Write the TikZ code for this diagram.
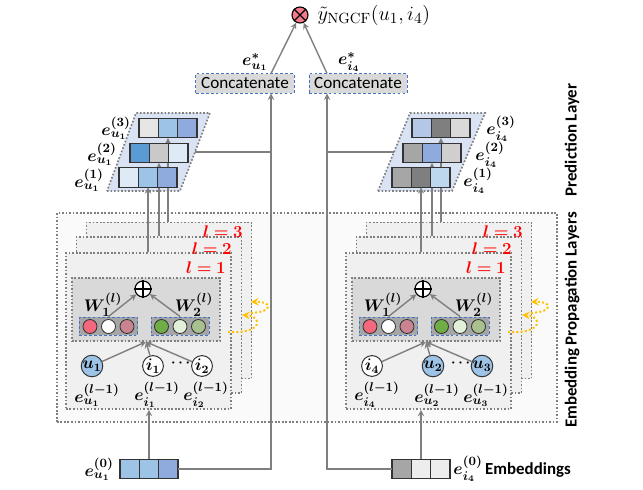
\documentclass[tikz,border=0pt]{standalone}
\usepackage{amsmath}
\usepackage{bm}
\usepackage{fontspec}
\setsansfont{Carlito}
\usepackage{tikz}
\usetikzlibrary{positioning}
\usetikzlibrary{shapes.geometric, arrows}

\definecolor{lineGray}{HTML}{7F7F7F}
\definecolor{dashBlue}{HTML}{4472C4}
\definecolor{boxGray}{HTML}{D9D9D9}
\definecolor{layerGray}{HTML}{F0F0F0}
\definecolor{outerGray}{HTML}{FAFAFA}
\definecolor{wGray}{HTML}{A6A6A6}
\definecolor{stackBlue}{HTML}{DAE3F3}
\definecolor{predPink}{HTML}{F47A8C}
\definecolor{tagRed}{HTML}{FF0000}
\definecolor{flowGold}{HTML}{FFC000}
\definecolor{cLightGray}{HTML}{E7E6E6}
\definecolor{cSky}{HTML}{9DC3E6}
\definecolor{cSteel}{HTML}{8FAADC}
\definecolor{cBlue}{HTML}{5B9BD5}
\definecolor{cSilver}{HTML}{C9C9C9}
\definecolor{cIce}{HTML}{DEEBF7}
\definecolor{cPale}{HTML}{B4C7E7}
\definecolor{cDark}{HTML}{7F7F7F}
\definecolor{cMid}{HTML}{A6A6A6}
\definecolor{cLight}{HTML}{D9D9D9}
\definecolor{cRosy}{HTML}{D0CECE}
\definecolor{cBaby}{HTML}{BDD7EE}
\definecolor{cSnow}{HTML}{EDEDED}
\definecolor{wPink}{HTML}{F4687E}
\definecolor{wRose}{HTML}{C98490}
\definecolor{wGreen}{HTML}{70AD47}
\definecolor{wMint}{HTML}{E2F0D9}
\definecolor{wSage}{HTML}{A9C18F}

\tikzstyle{arrow} = [line width=1pt,->,>=stealth,draw=lineGray]
\tikzstyle{link} = [line width=1pt,draw=lineGray]
\tikzstyle{flow} = [line width=1.4pt,->,>=stealth,draw=flowGold,dash pattern=on 1.4pt off 1.6pt]
\tikzstyle{dotframe} = [draw=lineGray,line width=1.2pt,dash pattern=on 1.2pt off 1.3pt]
\tikzstyle{layerbox} = [dotframe,fill=layerGray,minimum width=4.125cm,minimum height=3.9cm,inner sep=0pt]
\tikzstyle{aggbox} = [dotframe,fill=boxGray,minimum width=3.7cm,minimum height=1.575cm,inner sep=0pt]
\tikzstyle{wbox} = [draw=dashBlue,line width=0.7pt,dash pattern=on 2pt off 1.5pt,fill=wGray,minimum width=1.45cm,minimum height=0.45cm,inner sep=0pt]
\tikzstyle{concat} = [draw=dashBlue,line width=0.7pt,dash pattern=on 2pt off 1.5pt,fill=boxGray,minimum width=2.45cm,minimum height=0.475cm,inner sep=0pt,font=\sffamily\fontsize{12.2}{14}\selectfont]
\tikzstyle{cell} = [draw=black!80,line width=0.8pt,minimum width=0.4825cm,minimum height=0.49cm,inner sep=0pt,outer sep=0pt]
\tikzstyle{wcirc} = [circle,draw=black!80,line width=0.6pt,minimum size=0.35cm,inner sep=0pt]
\tikzstyle{graphnode} = [circle,draw=black!80,line width=0.7pt,minimum size=0.52cm,inner sep=0pt,font=\fontsize{12}{13}\selectfont]
\tikzstyle{sym} = [circle,draw=black,line width=0.8pt,minimum size=0.4cm,inner sep=0pt]
\tikzstyle{tag} = [text=tagRed,anchor=east,inner sep=0pt,font=\fontsize{12}{13}\selectfont]
\tikzstyle{mlabel} = [inner sep=0pt,font=\fontsize{12.5}{14}\selectfont]
\tikzstyle{slabel} = [inner sep=0pt,font=\fontsize{12.5}{14}\selectfont]
\tikzstyle{sidetitle} = [inner sep=0pt,font=\sffamily\bfseries\fontsize{12}{14}\selectfont]

\pgfdeclarelayer{back}
\pgfdeclarelayer{mid}
\pgfsetlayers{back,mid,main}

\begin{document}
\begin{tikzpicture}[x=0.025cm,y=-0.025cm]
\useasboundingbox (0,0) rectangle (643,490);

\begin{pgfonlayer}{back}
%Frames
\node[dotframe,fill=outerGray,minimum width=12.5cm,minimum height=5.225cm,inner sep=0pt] (prop) at (307,317.5) {};
\node[layerbox] (layL3) at (169,300.5) {};
\node[layerbox] (layL2) at (159,315) {};
\node[layerbox] (layL1) at (148.5,331) {};
\node[layerbox] (layR3) at (449,300.5) {};
\node[layerbox] (layR2) at (439,315) {};
\node[layerbox] (layR1) at (428.5,331) {};

%Stacks
\filldraw[dotframe,fill=stackBlue] (107,191) -- (180,191) -- (210,113) -- (136,113) -- cycle;
\filldraw[dotframe,fill=stackBlue] (378,191) -- (452,191) -- (485,113) -- (410,113) -- cycle;
\coordinate (stackL) at (195,152);
\coordinate (stackR) at (394,152);
\end{pgfonlayer}

%Layer tags
\node[tag] (tagL3) at (243,232) {$\bm{l=3}$};
\node[tag] (tagL2) at (232,249) {$\bm{l=2}$};
\node[tag] (tagL1) at (226,268) {$\bm{l=1}$};
\node[tag] (tagR3) at (523,232) {$\bm{l=3}$};
\node[tag] (tagR2) at (512,249) {$\bm{l=2}$};
\node[tag] (tagR1) at (506,268) {$\bm{l=1}$};

%Aggregation left
\node[aggbox] (aggL) at (146,309.5) {};
\node[sym,fill=white] (opL) at (143,289) {};
\draw[line width=0.8pt] (opL.north) -- (opL.south) (opL.west) -- (opL.east);
\node[wbox] (wL1) at (108.5,326) {};
\node[wbox] (wL2) at (180,326) {};
\node[wcirc,fill=wPink] (wL1a) at (90,326.5) {};
\node[wcirc,fill=white] (wL1b) at (108.5,326.5) {};
\node[wcirc,fill=wRose] (wL1c) at (127,326.5) {};
\node[wcirc,fill=wGreen] (wL2a) at (161.5,326.5) {};
\node[wcirc,fill=wMint] (wL2b) at (180,326.5) {};
\node[wcirc,fill=wSage] (wL2c) at (198.5,326.5) {};
\node[mlabel] (wlabL1) at (103,305) {$\bm{W_1^{(l)}}$};
\node[mlabel] (wlabL2) at (194,305) {$\bm{W_2^{(l)}}$};
\draw[arrow] (wL1.north) -- (opL);
\draw[arrow] (wL2.north) -- (opL);

%Neighbours left
\node[graphnode,fill=cSky] (nU1) at (92,366) {$\bm{u_1}$};
\node[graphnode,fill=white] (nI1) at (153,366) {$\bm{i_1}$};
\node[inner sep=0pt] (dotsL) at (182,363) {$\bm{\cdots}$};
\node[graphnode,fill=white] (nI2) at (202,366) {$\bm{i_2}$};
\draw[arrow] (nU1) -- (aggL.south);
\draw[arrow] (nI1) -- (aggL.south);
\draw[arrow] (nI2) -- (aggL.south);
\node[slabel] (eU1) at (97,395) {$\bm{e_{u_1}^{(l-1)}}$};
\node[slabel] (eI1) at (157,395) {$\bm{e_{i_1}^{(l-1)}}$};
\node[slabel] (eI2) at (206,395) {$\bm{e_{i_2}^{(l-1)}}$};

%Aggregation right
\node[aggbox] (aggR) at (426,309.5) {};
\node[sym,fill=white] (opR) at (423,289) {};
\draw[line width=0.8pt] (opR.north) -- (opR.south) (opR.west) -- (opR.east);
\node[wbox] (wR1) at (388.5,326) {};
\node[wbox] (wR2) at (460,326) {};
\node[wcirc,fill=wPink] (wR1a) at (370,326.5) {};
\node[wcirc,fill=white] (wR1b) at (388.5,326.5) {};
\node[wcirc,fill=wRose] (wR1c) at (407,326.5) {};
\node[wcirc,fill=wGreen] (wR2a) at (441.5,326.5) {};
\node[wcirc,fill=wMint] (wR2b) at (460,326.5) {};
\node[wcirc,fill=wSage] (wR2c) at (478.5,326.5) {};
\node[mlabel] (wlabR1) at (383,305) {$\bm{W_1^{(l)}}$};
\node[mlabel] (wlabR2) at (474,305) {$\bm{W_2^{(l)}}$};
\draw[arrow] (wR1.north) -- (opR);
\draw[arrow] (wR2.north) -- (opR);

%Neighbours right
\node[graphnode,fill=white] (nI4) at (372,366) {$\bm{i_4}$};
\node[graphnode,fill=cSky] (nU2) at (433,366) {$\bm{u_2}$};
\node[inner sep=0pt] (dotsR) at (462,363) {$\bm{\cdots}$};
\node[graphnode,fill=cSky] (nU3) at (482,366) {$\bm{u_3}$};
\draw[arrow] (nI4) -- (aggR.south);
\draw[arrow] (nU2) -- (aggR.south);
\draw[arrow] (nU3) -- (aggR.south);
\node[slabel] (eI4) at (377,395) {$\bm{e_{i_4}^{(l-1)}}$};
\node[slabel] (eU2) at (437,395) {$\bm{e_{u_2}^{(l-1)}}$};
\node[slabel] (eU3) at (486,395) {$\bm{e_{u_3}^{(l-1)}}$};

%Layer flow
\draw[flow] (228,332) .. controls (264,334) and (262,316) .. (242,315);
\draw[flow] (251,313) .. controls (274,312) and (272,301) .. (251,302);
\draw[flow] (508,332) .. controls (544,334) and (542,316) .. (522,315);
\draw[flow] (531,313) .. controls (554,312) and (552,301) .. (531,302);

%Stacked rows left
\node[cell,fill=cLightGray] (u3a) at (148.7,128) {};
\node[cell,fill=cSky,right=0pt of u3a] (u3b) {};
\node[cell,fill=cSteel,right=0pt of u3b] (u3c) {};
\node[cell,fill=cBlue] (u2a) at (139.7,153) {};
\node[cell,fill=cSilver,right=0pt of u2a] (u2b) {};
\node[cell,fill=cIce,right=0pt of u2b] (u2c) {};
\node[cell,fill=cIce] (u1a) at (128.7,177.5) {};
\node[cell,fill=cSky,right=0pt of u1a] (u1b) {};
\node[cell,fill=cSteel,right=0pt of u1b] (u1c) {};
\node[mlabel] (labU3) at (116,128) {$\bm{e_{u_1}^{(3)}}$};
\node[mlabel] (labU2) at (102,154) {$\bm{e_{u_1}^{(2)}}$};
\node[mlabel] (labU1) at (89,180) {$\bm{e_{u_1}^{(1)}}$};

%Stacked rows right
\node[cell,fill=cPale] (i3a) at (421.7,128) {};
\node[cell,fill=cDark,right=0pt of i3a] (i3b) {};
\node[cell,fill=cLight,right=0pt of i3b] (i3c) {};
\node[cell,fill=cMid] (i2a) at (412.7,153) {};
\node[cell,fill=cSteel,right=0pt of i2a] (i2b) {};
\node[cell,fill=cRosy,right=0pt of i2b] (i2c) {};
\node[cell,fill=cMid] (i1a) at (401.7,177.5) {};
\node[cell,fill=cDark,right=0pt of i1a] (i1b) {};
\node[cell,fill=cBaby,right=0pt of i1b] (i1c) {};
\node[mlabel] (labI3) at (501,129) {$\bm{e_{i_4}^{(3)}}$};
\node[mlabel] (labI2) at (490,155) {$\bm{e_{i_4}^{(2)}}$};
\node[mlabel] (labI1) at (478,181) {$\bm{e_{i_4}^{(1)}}$};

%Layer outputs
\begin{pgfonlayer}{mid}
\draw[arrow] (u1b.south |- layL1.north) -- (u1b.south);
\draw[arrow] (u2b.south |- layL2.north) -- (u2b.south);
\draw[arrow] (u3b.south |- layL3.north) -- (u3b.south);
\draw[arrow] (i1b.south |- layR1.north) -- (i1b.south);
\draw[arrow] (i2b.south |- layR2.north) -- (i2b.south);
\draw[arrow] (i3b.south |- layR3.north) -- (i3b.south);
\end{pgfonlayer}

%Embeddings
\node[cell,fill=cSky] (u0a) at (129.7,469) {};
\node[cell,fill=cSky,right=0pt of u0a] (u0b) {};
\node[cell,fill=cSteel,right=0pt of u0b] (u0c) {};
\node[cell,fill=cMid] (i0a) at (401.7,469) {};
\node[cell,fill=cSnow,right=0pt of i0a] (i0b) {};
\node[cell,fill=cSnow,right=0pt of i0b] (i0c) {};
\node[mlabel,left=0.15cm of u0a] (labU0) {$\bm{e_{u_1}^{(0)}}$};
\node[mlabel,right=0.08cm of i0c] (labI0) {$\bm{e_{i_4}^{(0)}}$};
\draw[arrow] (u0b.north) -- (u0b.north |- layL1.south);
\draw[arrow] (i0b.north) -- (i0b.north |- layR1.south);

%Prediction
\node[sym,fill=predPink] (pred) at (300,15) {};
\draw[line width=0.8pt] (pred.north west) -- (pred.south east) (pred.north east) -- (pred.south west);
\node[right=0.22cm of pred,inner sep=0pt,font=\fontsize{15}{17}\selectfont] (score) {$\tilde{y}_{\mathrm{NGCF}}(u_1,i_4)$};
\node[concat] (concatL) at (245,83.5) {Concatenate};
\node[concat] (concatR) at (358,83.5) {Concatenate};
\coordinate (jointL) at (271,152);
\coordinate (jointR) at (327,152);
\draw[arrow] (u0c.east) -| (jointL) -- (jointL |- concatL.south);
\draw[arrow] (i0a.west) -| (jointR) -- (jointR |- concatR.south);
\draw[link] (stackL) -- (jointL);
\draw[link] (stackR) -- (jointR);
\draw[arrow] (jointL |- concatL.north) -- (pred);
\draw[arrow] (jointR |- concatR.north) -- (pred);
\node[mlabel] (starL) at (255,62) {$\bm{e_{u_1}^{*}}$};
\node[mlabel] (starR) at (349,62) {$\bm{e_{i_4}^{*}}$};

%Side titles
\node[sidetitle,rotate=90] (predTitle) at (572,140) {Prediction Layer};
\node[sidetitle,rotate=90] (propTitle) at (572,320) {Embedding Propagation Layers};
\node[sidetitle] (embTitle) at (528,470) {Embeddings};
\end{tikzpicture}
\end{document}
